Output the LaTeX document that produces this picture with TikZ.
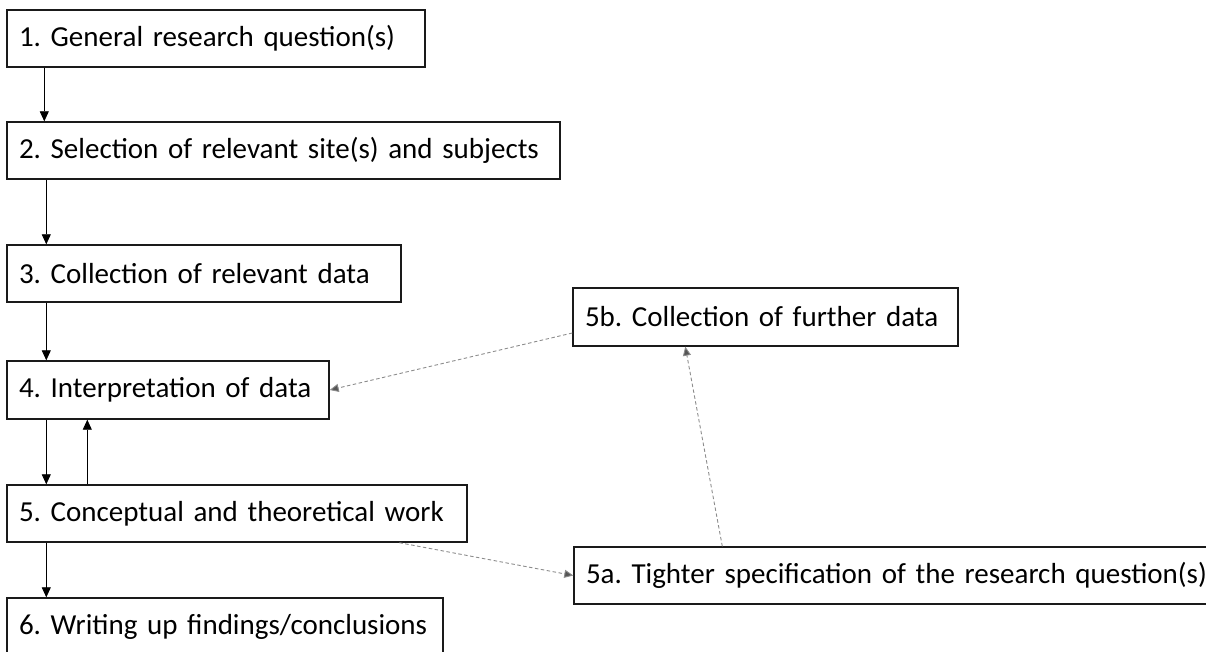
\documentclass[tikz,border=0pt]{standalone}
\usepackage{fontspec}
\setmainfont{Carlito}
\usepackage{tikz}
\usetikzlibrary{arrows.meta, positioning}
\usepackage{xcolor}
\definecolor{boxline}{HTML}{1A1A1A}
\definecolor{dashgray}{HTML}{8C8C8C}
\definecolor{tipgray}{HTML}{555555}
\frenchspacing

\begin{document}
\begin{tikzpicture}[x=1pt, y=-1pt,
      box/.style={rectangle, draw=boxline, line width=1.4pt, fill=white, minimum height=57pt, inner xsep=12pt, align=left, font=\fontsize{29}{34}\selectfont},
      arrow/.style={-{Triangle[length=10pt, width=9pt]}, line width=0.8pt, black},
      dasharrow/.style={-{Triangle[length=9pt, width=8pt, fill=tipgray]}, line width=0.9pt, draw=dashgray, dash pattern=on 3.5pt off 2.5pt},
    ]
    \useasboundingbox (0,0) rectangle (1206,652);

    \node[box, text width=394pt] (q1) at (216,38.5) {1. General research question(s)};
    \node[box, text width=529pt] (q2) at (283.5,150.5) {2. Selection of relevant site(s) and subjects};
    \node[box, text width=370pt] (q3) at (204,273.5) {3. Collection of relevant data};
    \node[box, text width=298pt, minimum height=58pt] (q4) at (168,390) {4. Interpretation of data};
    \node[box, text width=436pt] (q5) at (237,513.5) {5. Conceptual and theoretical work};
    \node[box, text width=412pt] (q6) at (225,626.5) {6. Writing up findings/conclusions};
    \node[box, text width=361pt, minimum height=58pt] (q5b) at (765.5,317) {5b. Collection of further data};
    \node[box, text width=640pt] (q5a) at (906,575.5) {5a. Tighter specification of the research question(s)};

    \draw[arrow] ([xshift=38pt]q1.south west) -- ([xshift=38pt]q2.north west);
    \draw[arrow] ([xshift=40pt]q2.south west) -- ([xshift=40pt]q3.north west);
    \draw[arrow] ([xshift=40pt]q3.south west) -- ([xshift=40pt]q4.north west);
    \draw[arrow] ([xshift=40pt]q4.south west) -- ([xshift=40pt]q5.north west);
    \draw[arrow] ([xshift=81pt]q5.north west) -- ([xshift=81pt]q4.south west);
    \draw[arrow] ([xshift=40pt]q5.south west) -- ([xshift=40pt]q6.north west);

    \draw[dasharrow] ([yshift=-16pt]q5b.west) -- (q4.east);
    \draw[dasharrow] ([xshift=149pt]q5a.north west) -- ([xshift=113pt]q5b.south west);
    \draw[dasharrow] ([xshift=393pt]q5.south west) -- (q5a.west);
  \end{tikzpicture}
\end{document}
